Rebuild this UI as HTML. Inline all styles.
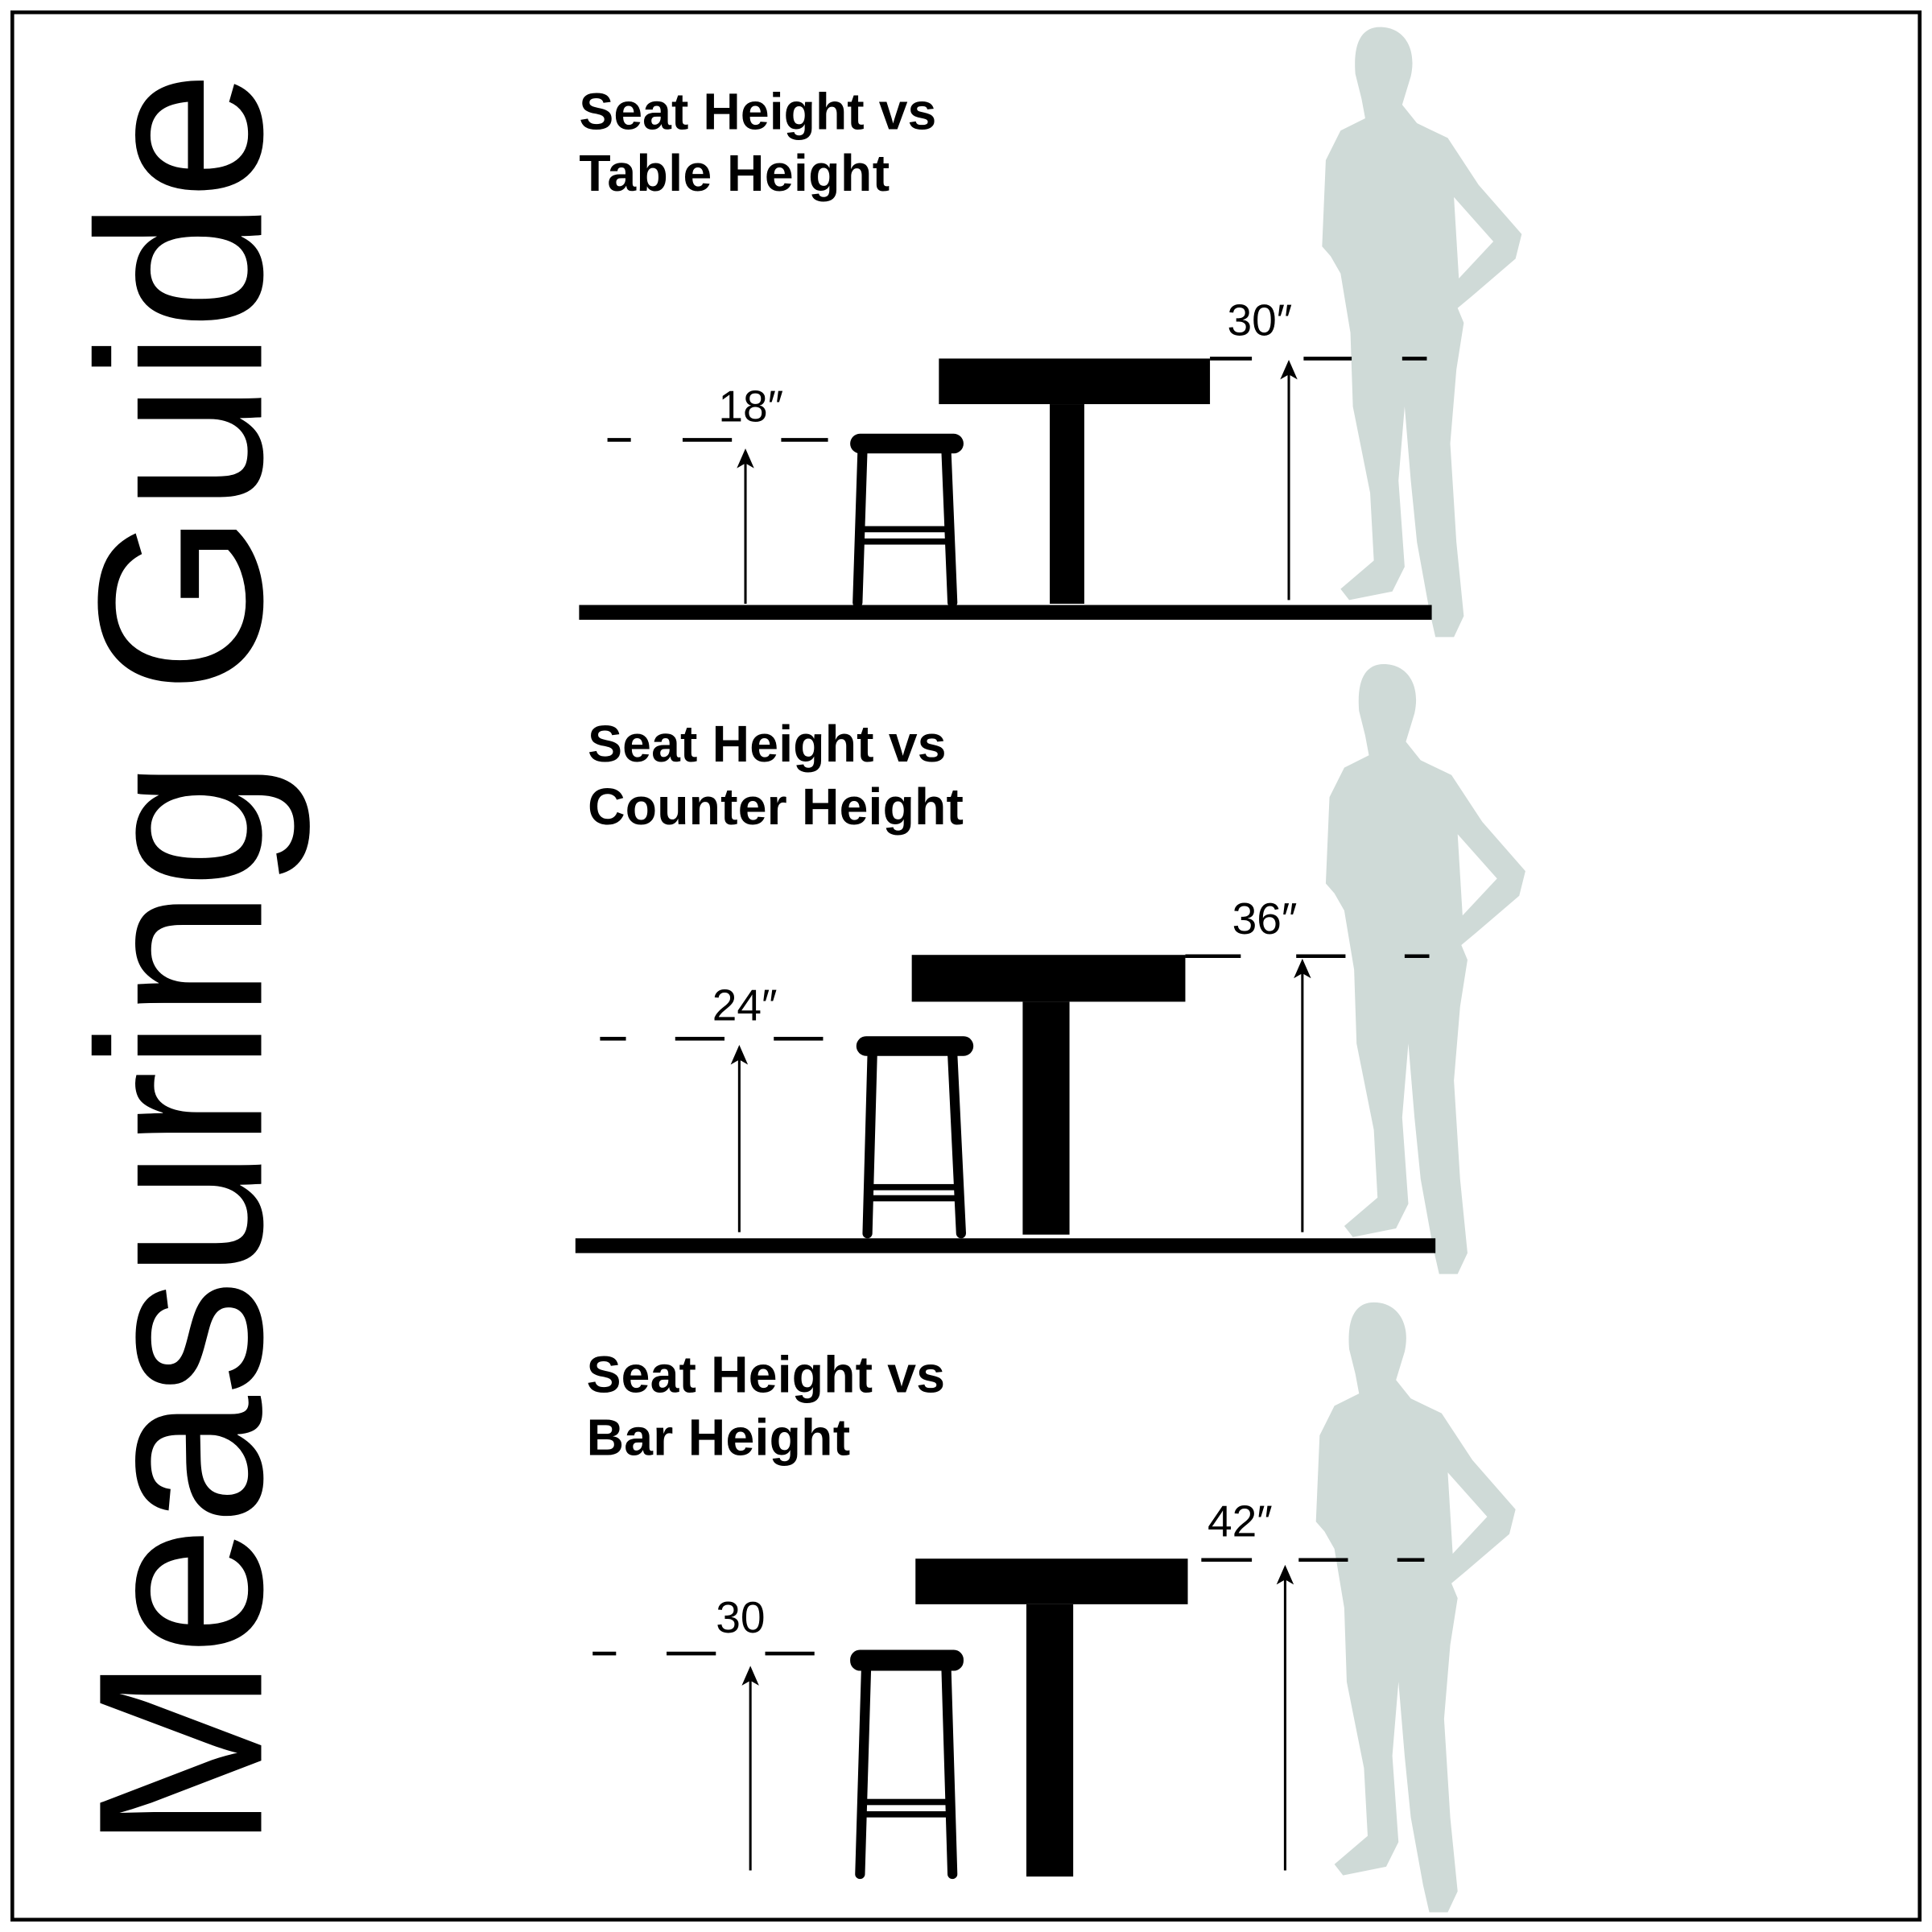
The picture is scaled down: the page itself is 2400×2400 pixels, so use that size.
<!DOCTYPE html>
<html><head><meta charset="utf-8"><style>
html,body{margin:0;padding:0;background:#fff;}
svg{display:block;}
</style></head><body>
<svg width="2400" height="2400" viewBox="0 0 1568 1568" xmlns="http://www.w3.org/2000/svg">
<defs>
<g id="man">
<path fill="#cfdad7" d="M1120,22 C1140,22 1150,40 1145,62 L1138,85 L1150,100 L1175,112 L1200,150 L1235,190 L1230,210 L1195,240 L1183,250 L1188,262 L1182,300 L1177,360 L1182,440 L1188,500 L1180,517 L1165,517 L1160,495 L1150,440 L1145,390 L1140,330 L1135,390 L1140,460 L1130,480 L1095,487 L1088,478 L1115,455 L1112,400 L1098,330 L1096,270 L1088,222 L1080,208 L1073,200 L1076,130 L1088,106 L1108,96 L1105,80 L1100,60 C1098,35 1105,22 1120,22 Z"/>
<path fill="#fff" d="M1180,160 L1212,196 L1184,226 Z"/>
</g>
<g id="arrowhead"><path d="M0,0 L-7,16 L0,12 L7,16 Z" fill="#000"/></g>
</defs>
<rect x="0" y="0" width="1568" height="1568" fill="#fff"/>
<rect x="10" y="10" width="1548" height="1548" fill="none" stroke="#000" stroke-width="3"/>
<text transform="translate(212,1502) rotate(-90)" font-family="Liberation Sans, sans-serif" font-size="190" textLength="1445" lengthAdjust="spacingAndGlyphs">Measuring Guide</text>

<g font-family="Liberation Sans, sans-serif" font-weight="bold" font-size="42" lengthAdjust="spacingAndGlyphs">
<text x="470" y="105" textLength="290">Seat Height vs</text>
<text x="470" y="155" textLength="252">Table Height</text>
<text x="477" y="618" textLength="291">Seat Height vs</text>
<text x="477" y="669" textLength="305">Counter Height</text>
<text x="476" y="1130" textLength="291">Seat Height vs</text>
<text x="476" y="1181" textLength="214">Bar Height</text>
</g>
<g font-family="Liberation Sans, sans-serif" font-size="36">
<text x="583" y="342">18″</text>
<text x="996" y="272">30″</text>
<text x="578" y="828">24″</text>
<text x="1000" y="758">36″</text>
<text x="581" y="1325">30</text>
<text x="980" y="1247">42″</text>
</g>

<use href="#man"/>
<use href="#man" transform="translate(3,517)"/>
<use href="#man" transform="translate(-5,1035)"/>

<rect x="470" y="491" width="692" height="12"/>
<rect x="762" y="291" width="220" height="37"/>
<rect x="852" y="328" width="28" height="162"/>
<rect x="690" y="352" width="92" height="16" rx="8"/>
<path d="M700,366 L696,489 M768,366 L773,489" stroke="#000" stroke-width="8" stroke-linecap="round"/>
<rect x="700" y="427" width="70" height="5"/><rect x="700" y="437" width="70" height="5"/>
<g stroke="#000" stroke-width="3">
<path d="M493,357H512M554,357H594M634,357H672"/>
<path d="M982,291H1016M1058,291H1097M1138,291H1158"/>
</g>
<g stroke="#000" stroke-width="2"><path d="M605,490V372M1046,487V300"/></g>
<use href="#arrowhead" transform="translate(605,364)"/>
<use href="#arrowhead" transform="translate(1046,292)"/>

<rect x="467" y="1005" width="698" height="12"/>
<rect x="740" y="775" width="222" height="38"/>
<rect x="830" y="813" width="38" height="189"/>
<rect x="695" y="841" width="95" height="16" rx="8"/>
<path d="M708,855 L704,1001 M773,855 L780,1001" stroke="#000" stroke-width="8" stroke-linecap="round"/>
<rect x="706" y="961" width="72" height="5"/><rect x="706" y="970" width="72" height="5"/>
<g stroke="#000" stroke-width="3">
<path d="M487,843H508M548,843H588M628,843H668"/>
<path d="M962,776H1007M1052,776H1092M1140,776H1160"/>
</g>
<g stroke="#000" stroke-width="2"><path d="M600,1000V856M1057,1000V786"/></g>
<use href="#arrowhead" transform="translate(600,848)"/>
<use href="#arrowhead" transform="translate(1057,778)"/>

<rect x="743" y="1265" width="221" height="37"/>
<rect x="833" y="1302" width="38" height="221"/>
<rect x="690" y="1339" width="92" height="17" rx="8"/>
<path d="M703,1354 L698,1521 M768,1354 L773,1521" stroke="#000" stroke-width="8" stroke-linecap="round"/>
<rect x="702" y="1460" width="70" height="5"/><rect x="702" y="1470" width="70" height="5"/>
<g stroke="#000" stroke-width="3">
<path d="M481,1342H500M541,1342H581M621,1342H661"/>
<path d="M975,1266H1016M1054,1266H1094M1134,1266H1156"/>
</g>
<g stroke="#000" stroke-width="2"><path d="M609,1518V1360M1043,1518V1278"/></g>
<use href="#arrowhead" transform="translate(609,1352)"/>
<use href="#arrowhead" transform="translate(1043,1270)"/>
</svg>
</body></html>
